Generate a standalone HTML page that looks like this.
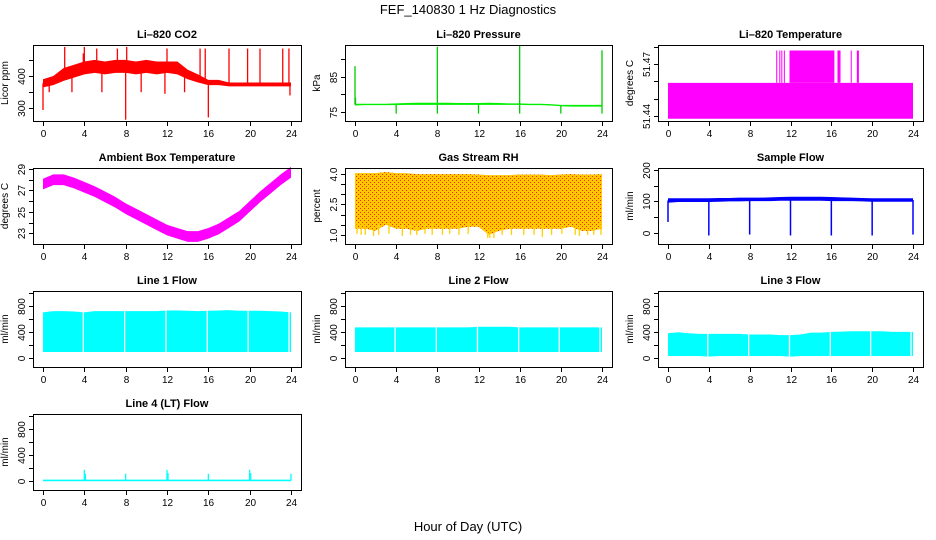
<!DOCTYPE html>
<html><head><meta charset="utf-8"><style>
html,body{margin:0;padding:0;background:#fff;}
svg{display:block;font-family:"Liberation Sans",sans-serif;}
</style></head><body>
<svg id="fig" width="936" height="540" viewBox="0 0 936 540" xmlns="http://www.w3.org/2000/svg">
<defs>
<pattern id="rhpat" width="4" height="4" patternUnits="userSpaceOnUse">
<rect width="4" height="4" fill="#ffc800"/><rect x="0" y="0" width="1" height="1" fill="#ff2000"/><rect x="2" y="2" width="1" height="1" fill="#ff2000"/>
</pattern>
</defs>
<text x="468" y="14" text-anchor="middle" font-size="13">FEF_140830  1 Hz Diagnostics</text>
<text x="468" y="531" text-anchor="middle" font-size="13">Hour of Day (UTC)</text>
</svg>
<script>
const hours = [0,1,2,3,4,5,6,7,8,9,10,11,12,13,14,15,16,17,18,19,20,21,22,23,24];
const xTicks = [0,4,8,12,16,20,24];

const co2Low  = [365,372,385,395,405,410,405,410,410,405,410,405,410,405,390,380,372,372,368,368,368,368,368,368,368];
const co2High = [390,400,425,435,445,450,445,450,450,445,450,445,445,445,420,405,388,388,380,380,380,380,380,380,380];
const co2SpikeH = [0.0,2.1,4.0,5.2,7.2,8.0,8.1,12.0,15.2,15.7,16.0,18.0,19.8,21.0,23.2,23.8,23.9,0.6,2.8,5.7,9.5,11.8,13.7,3.9];
const co2SpikeV = [295,490,490,485,485,265,490,485,485,485,272,485,485,485,485,485,340,350,350,350,350,345,350,470];

const presLow  = [76.8,76.9,76.9,76.9,76.9,77.0,77.0,77.0,77.0,77.0,77.0,77.0,77.0,77.0,77.0,77.0,77.0,76.9,76.9,76.8,76.6,76.5,76.5,76.5,76.5];
const presHigh = [77.3,77.3,77.3,77.3,77.4,77.5,77.6,77.6,77.6,77.6,77.5,77.5,77.5,77.6,77.5,77.4,77.4,77.3,77.3,77.2,77.0,77.0,77.0,77.0,77.0];
const presSpikeH = [0.0,0.05,4.0,8.0,8.0,12.0,16.0,16.0,20.0,24.0,24.0];
const presSpikeV = [88,79,74.5,93.5,74.5,74.5,94,74.5,74.5,92.5,74.5];

const tempLow  = [51.4383,51.4383];
const tempHigh = [51.4592,51.4592];
const tempRange = [0,24];
const tempHotStart = [10.6,10.9,11.1,11.35,11.9,16.6,17.9,18.5];
const tempHotEnd   = [10.7,11.0,11.2,11.4,16.3,16.9,18.0,18.7];
const tempHotVal = 51.478;

const ambMid = [27.6,28.0,28.0,27.7,27.3,26.9,26.4,25.9,25.3,24.8,24.3,23.8,23.3,23.0,22.7,22.7,23.0,23.4,24.0,24.6,25.5,26.4,27.2,28.0,28.7];
const ambHalf = 0.5;

const rhLow  = [1.3,1.3,1.2,1.5,1.3,1.3,1.2,1.3,1.3,1.3,1.3,1.4,1.4,1.0,1.2,1.3,1.3,1.3,1.3,1.3,1.3,1.4,1.2,1.2,1.3];
const rhHigh = [4.05,4.05,4.05,4.1,4.05,4.05,4.0,4.0,4.0,4.0,4.0,4.0,3.98,3.95,3.95,3.95,3.98,3.98,3.98,3.95,3.98,4.0,3.98,3.98,4.0];
const rhDipH = [0.2,0.6,1.0,1.8,2.3,3.3,4.6,5.4,6.0,6.8,7.5,8.5,9.2,10.1,11.0,12.9,13.1,13.5,14.3,15.2,16.4,17.4,18.2,19.1,20.1,21.4,21.8,22.6,23.2,23.9];
const rhDipV = [1.05,1.0,1.0,0.95,1.0,1.05,0.95,1.0,1.0,1.05,1.0,1.0,1.05,1.0,1.05,0.85,0.85,0.85,1.0,1.0,1.0,1.0,0.9,1.0,1.05,1.0,0.95,1.0,1.0,1.0];

const sfLow  = [96,98,98,98,98,99,100,100,101,101,101,102,102,102,102,102,101,101,101,100,99,99,99,99,99];
const sfHigh = [110,110,110,110,110,111,111,112,112,112,113,114,115,115,115,115,114,113,112,111,110,110,110,110,110];
const sfDipH = [0,4,8,12,16,20,24];
const sfDipV = [35,-8,-5,-8,-8,-8,-5];

const l1Low  = [90,90,90,90,90,90,90,90,90,90,90,90,90,90,90,90,90,90,90,90,90,90,90,90,90];
const l1High = [700,720,720,715,700,720,720,720,720,720,720,720,730,730,725,720,725,730,735,725,725,725,720,715,700];
const l2Low  = [90,90,90,90,90,90,90,90,90,90,90,90,90,90,90,90,90,90,90,90,90,90,90,90,90];
const l2High = [470,470,470,470,470,470,470,470,470,470,470,470,480,480,480,480,470,470,470,470,470,470,470,470,470];
const l3Low  = [30,30,30,30,20,30,30,30,30,30,30,30,20,30,30,30,30,30,30,30,30,30,30,30,30];
const l3High = [380,395,380,370,370,370,370,370,360,360,360,350,350,360,390,390,400,405,410,410,410,410,400,400,400];
const flowGapH = [3.9,7.9,11.9,15.9,19.85,23.8];
const l4Low  = [-5,-5,-5,-5,-5,-5,-5,-5,-5,-5,-5,-5,-5,-5,-5,-5,-5,-5,-5,-5,-5,-5,-5,-5,-5];
const l4High = [20,20,20,20,20,20,20,20,20,20,20,20,20,20,20,20,20,20,20,20,20,20,20,20,20];
const l4SpikeH = [4.0,4.1,8.0,12.0,12.1,16.0,20.0,20.1,24.0];
const l4SpikeV = [170,110,110,170,120,110,170,120,110];

const SVGNS = "http://www.w3.org/2000/svg";
const svg = document.getElementById('fig');
const colL = [33,345,658], colR = [301,612,923], rowT = [45,168,291,414], PH = 76;

function mk(tag, attrs, parent){ const e=document.createElementNS(SVGNS,tag); for(const k in attrs) e.setAttribute(k,attrs[k]); (parent||svg).appendChild(e); return e; }

function makePanel(col,row,ylim,yticks,ylabels,title,ylab,key){
  const L=colL[col],R=colR[col],T=rowT[row],B=T+PH;
  const g=mk('g',{});
  
  
  const sx=h=>L+10+h*(R-L-20)/24;
  const sy=v=>B-(v-ylim[0])/(ylim[1]-ylim[0])*PH;
  const plot=mk('g',{},g);
  
  
  const box=mk('rect',{x:L+0.5,y:T+0.5,width:R-L,height:PH,fill:'none',stroke:'#000','stroke-width':1},g);
  
  
  const t=mk('text',{x:(L+R)/2,y:T-7,'text-anchor':'middle','font-size':11,'font-weight':'bold'},g);
  t.textContent=title;
  
  
  xTicks.forEach(h=>{
    const x=Math.round(sx(h))+0.5;
    mk('line',{x1:x,x2:x,y1:B,y2:B+5,stroke:'#000'},g);
    const tx=mk('text',{x:x,y:B+16,'text-anchor':'middle','font-size':10},g);
    tx.textContent=h;
    
    
  });
  yticks.forEach((v,i)=>{
    const y=Math.round(sy(v))+0.5;
    mk('line',{x1:L-4,x2:L,y1:y,y2:y,stroke:'#000'},g);
    if(ylabels[i]!==''){
      const ty=mk('text',{x:0,y:0,'text-anchor':'middle','font-size':10,transform:`translate(${L-8},${y}) rotate(-90)`},g);
      ty.textContent=ylabels[i];
      
      
    }
  });
  const yl=mk('text',{x:0,y:0,'text-anchor':'middle','font-size':10,transform:`translate(${L-25},${(T+B)/2}) rotate(-90)`},g);
  yl.textContent=ylab;
  
  
  return {sx,sy,plot,L,R,T,B};
}
function band(p,hs,lo,hi,fill){
  let pts=hs.map((h,i)=>p.sx(h)+','+p.sy(hi[i]));
  pts=pts.concat(hs.map((h,i)=>p.sx(h)+','+p.sy(lo[i])).reverse());
  const e=mk('polygon',{points:pts.join(' '),fill:fill},p.plot);
  
  
}
function interp(hs,arr,h){ for(let i=0;i<hs.length-1;i++){ if(h<=hs[i+1]){const f=(h-hs[i])/(hs[i+1]-hs[i]);return arr[i]+f*(arr[i+1]-arr[i]);} } return arr[arr.length-1]; }
function spikes(p,sh,sv,baseArr,color,w){
  sh.forEach((h,i)=>{
    const b=interp(hours,baseArr,h);
    const e=mk('line',{x1:p.sx(h),x2:p.sx(h),y1:p.sy(b),y2:p.sy(sv[i]),stroke:color,'stroke-width':w||1.2},p.plot);
    
    
  });
}
function gaps(p,gh,lo,hi){
  gh.forEach(h=>{
    const e=mk('line',{x1:p.sx(h),x2:p.sx(h),y1:p.sy(interp(hours,hi,h))-1,y2:p.sy(interp(hours,lo,h))+1,stroke:'#fff','stroke-width':1.3},p.plot);
    
    
  });
}
const mid=(a,b)=>a.map((v,i)=>(v+b[i])/2);

let p=makePanel(0,0,[261,496],[300,350,400,450],['300','','400',''],'Li\u2013820 CO2','Licor ppm','co2');
band(p,hours,co2Low,co2High,'#ff0000');
spikes(p,co2SpikeH,co2SpikeV,mid(co2Low,co2High),'#ff0000',1.3);

p=makePanel(1,0,[72.4,94],[75,80,85,90],['75','','85',''],'Li\u2013820 Pressure','kPa','pressure');
band(p,hours,presLow,presHigh,'#00ee00');
spikes(p,presSpikeH,presSpikeV,mid(presLow,presHigh),'#00cc00',1.3);

p=makePanel(2,0,[51.437,51.4812],[51.44,51.45,51.46,51.47,51.48],['51.44','','','51.47',''],'Li\u2013820 Temperature','degrees C','li820-temp');
band(p,tempRange,tempLow,tempHigh,'#ff00ff');
tempHotStart.forEach((s,i)=>{
  const e=mk('rect',{x:p.sx(s),y:p.sy(tempHotVal),width:Math.max(1,p.sx(tempHotEnd[i])-p.sx(s)),height:p.sy(tempHigh[0])-p.sy(tempHotVal),fill:'#ff00ff'},p.plot);
  
  
});

p=makePanel(0,1,[22.0,29.1],[23,24,25,26,27,28,29],['23','','25','','27','','29'],'Ambient Box Temperature','degrees C','ambient-temp');
band(p,hours,ambMid.map(v=>v-ambHalf),ambMid.map(v=>v+ambHalf),'#ff00ff');

p=makePanel(1,1,[0.55,4.3],[1.0,1.5,2.0,2.5,3.0,3.5,4.0],['1.0','','','2.5','','','4.0'],'Gas Stream RH','percent','rh');
band(p,hours,rhLow,rhHigh,'url(#rhpat)');
spikes(p,rhDipH,rhDipV,rhLow.map(v=>v+0.3),'#ffd000',1.3);

p=makePanel(2,1,[-35,206],[0,50,100,150,200],['0','','100','','200'],'Sample Flow','ml/min','sample-flow');
band(p,hours,sfLow,sfHigh,'#0000ff');
spikes(p,sfDipH,sfDipV,mid(sfLow,sfHigh),'#0000ff',1.5);

const fT=[0,200,400,600,800,1000], fL=['0','','400','','800',''];
p=makePanel(0,2,[-140,1030],fT,fL,'Line 1 Flow','ml/min','line1-flow');
band(p,hours,l1Low,l1High,'#00ffff'); gaps(p,flowGapH,l1Low,l1High);
p=makePanel(1,2,[-140,1030],fT,fL,'Line 2 Flow','ml/min','line2-flow');
band(p,hours,l2Low,l2High,'#00ffff'); gaps(p,flowGapH,l2Low,l2High);
p=makePanel(2,2,[-140,1030],fT,fL,'Line 3 Flow','ml/min','line3-flow');
band(p,hours,l3Low,l3High,'#00ffff'); gaps(p,flowGapH,l3Low,l3High);
p=makePanel(0,3,[-140,1030],fT,fL,'Line 4 (LT) Flow','ml/min','line4-flow');
band(p,hours,l4Low,l4High,'#00ffff');
spikes(p,l4SpikeH,l4SpikeV,mid(l4Low,l4High),'#00ffff',1.3);
</script>
</body></html>
